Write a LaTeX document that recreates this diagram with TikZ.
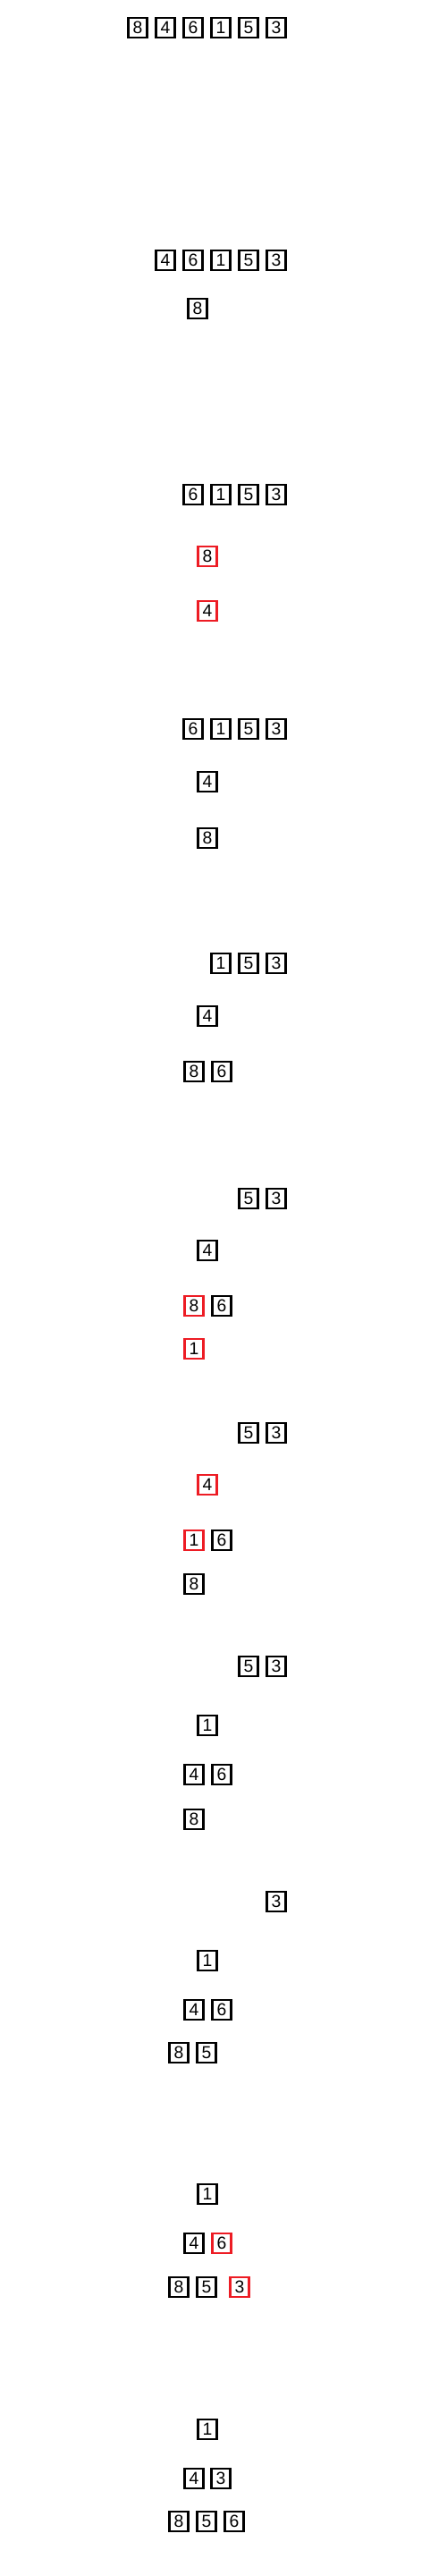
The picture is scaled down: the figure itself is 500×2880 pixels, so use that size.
\documentclass[tikz,border=0pt]{standalone}
\usepackage{fontspec}
\setmainfont{Liberation Sans}
\definecolor{swapred}{RGB}{237,28,36}

\begin{document}
\begin{tikzpicture}[
    x=0.2mm, y=-0.2mm,
    key/.style={draw, line width=0.55mm, minimum width=4.2mm, minimum height=4.4mm,
        inner sep=0pt, font=\fontsize{11}{12}\selectfont},
    hot/.style={key, draw=swapred},
]
    \useasboundingbox (0,0) rectangle (500,2880);

    % Step 1 -- input array
    \foreach \x/\v in {154/8, 185/4, 216/6, 247/1, 278/5, 309/3}
        \node[key] (a\v) at (\x, 31) {\v};

    % Step 2 -- 8 becomes the root
    \foreach \x/\y/\v/\s in {185/291/4/key, 216/291/6/key, 247/291/1/key,
        278/291/5/key, 309/291/3/key, 221/345/8/key}
        \node[\s] (b\v) at (\x, \y) {\v};

    % Step 3 -- 4 added, compare with 8
    \foreach \x/\y/\v/\s in {216/553/6/key, 247/553/1/key, 278/553/5/key,
        309/553/3/key, 232/622/8/hot, 232/683/4/hot}
        \node[\s] (c\v) at (\x, \y) {\v};

    % Step 4 -- swapped
    \foreach \x/\y/\v/\s in {216/815/6/key, 247/815/1/key, 278/815/5/key,
        309/815/3/key, 232/874/4/key, 232/937/8/key}
        \node[\s] (d\v) at (\x, \y) {\v};

    % Step 5 -- 6 added
    \foreach \x/\y/\v/\s in {247/1077/1/key, 278/1077/5/key, 309/1077/3/key,
        232/1136/4/key, 217/1198/8/key, 248/1198/6/key}
        \node[\s] (e\v) at (\x, \y) {\v};

    % Step 6 -- 1 added under 8
    \foreach \x/\y/\v/\s in {278/1340/5/key, 309/1340/3/key, 232/1398/4/key,
        217/1460/8/hot, 248/1460/6/key, 217/1508/1/hot}
        \node[\s] (f\v) at (\x, \y) {\v};

    % Step 7 -- 1 moved up, compare with 4
    \foreach \x/\y/\v/\s in {278/1602/5/key, 309/1602/3/key, 232/1660/4/hot,
        217/1722/1/hot, 248/1722/6/key, 217/1771/8/key}
        \node[\s] (g\v) at (\x, \y) {\v};

    % Step 8 -- 1 is the root
    \foreach \x/\y/\v/\s in {278/1863/5/key, 309/1863/3/key, 232/1929/1/key,
        217/1984/4/key, 248/1984/6/key, 217/2034/8/key}
        \node[\s] (h\v) at (\x, \y) {\v};

    % Step 9 -- 5 added
    \foreach \x/\y/\v/\s in {309/2126/3/key, 232/2192/1/key, 217/2247/4/key,
        248/2247/6/key, 200/2295/8/key, 231/2295/5/key}
        \node[\s] (i\v) at (\x, \y) {\v};

    % Step 10 -- 3 added under 6
    \foreach \x/\y/\v/\s in {232/2453/1/key, 217/2508/4/key, 248/2508/6/hot,
        200/2557/8/key, 231/2557/5/key, 268/2557/3/hot}
        \node[\s] (j\v) at (\x, \y) {\v};

    % Step 11 -- final heap
    \foreach \x/\y/\v/\s in {232/2716/1/key, 217/2771/4/key, 247/2771/3/key,
        200/2819/8/key, 231/2819/5/key, 262/2819/6/key}
        \node[\s] (k\v) at (\x, \y) {\v};
\end{tikzpicture}
\end{document}
